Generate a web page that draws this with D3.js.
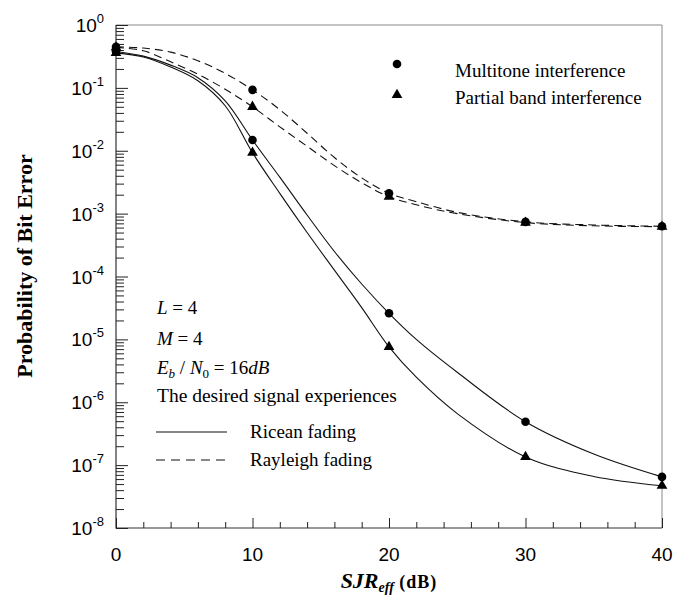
<!DOCTYPE html>
<html>
<head>
<meta charset="utf-8">
<script src="https://cdn.jsdelivr.net/npm/d3@7"></script>
<style>
  html, body { margin: 0; padding: 0; background: #fff; }
  svg { display: block; }
  .sans { font-family: "Liberation Sans", Arial, Helvetica, sans-serif; }
  .serif { font-family: "Liberation Serif", "Times New Roman", Times, serif; }
</style>
</head>
<body>
<svg id="chart" width="682" height="595"></svg>
<script>
// SJR_eff sample points (dB) for the analytic curves
const sjr = [0, 2, 4, 6, 8, 10, 12, 14, 16, 18, 20, 22, 25, 30, 35, 40];

// Ricean fading (solid curves)
const riceanMultitone = [0.38, 0.32, 0.23, 0.145, 0.062, 0.0148, 0.0038, 9.5e-4, 2.5e-4, 7.6e-5, 2.6e-5, 1.0e-5, 3.0e-6, 4.9e-7, 1.5e-7, 6.5e-8];
const riceanPartial   = [0.36, 0.31, 0.215, 0.13, 0.052, 0.0093, 0.0021, 5.0e-4, 1.26e-4, 3.2e-5, 7.6e-6, 2.5e-6, 6.6e-7, 1.35e-7, 6.6e-8, 4.7e-8];

// Rayleigh fading (dashed curves)
const rayleighMultitone = [0.45, 0.43, 0.37, 0.27, 0.17, 0.093, 0.045, 0.019, 0.0078, 0.0037, 0.0021, 0.00155, 0.00105, 0.00074, 0.00066, 0.00063];
const rayleighPartial   = [0.44, 0.39, 0.26, 0.165, 0.095, 0.05, 0.024, 0.0118, 0.0058, 0.0031, 0.00186, 0.00138, 0.0010, 0.00072, 0.00064, 0.00062];

// Simulation points shown with markers
const markerSjr = [0, 10, 20, 30, 40];
const riceanMultitoneMarks   = [0.38, 0.0148, 2.6e-5, 4.9e-7, 6.5e-8];
const riceanPartialMarks     = [0.36, 0.0093, 7.6e-6, 1.35e-7, 4.7e-8];
const rayleighMultitoneMarks = [0.45, 0.093, 0.0021, 0.00074, 0.00063];
const rayleighPartialMarks   = [0.44, 0.05, 0.00186, 0.00072, 0.00062];

// Axis ticks
const xMajorTicks = [0, 10, 20, 30, 40];
const xMinorTicks = [2, 4, 6, 8, 12, 14, 16, 18, 22, 24, 26, 28, 32, 34, 36, 38];
const yExponents = [0, -1, -2, -3, -4, -5, -6, -7, -8];

const svg = d3.select("#chart");
const W = 682, H = 595;
svg.append("rect").attr("width", W).attr("height", H).attr("fill", "#fff");

const plotLeft = 116, plotRight = 662, plotTop = 25, plotBottom = 528;
const x = d3.scaleLinear().domain([0, 40]).range([plotLeft, plotRight]);
const y = d3.scaleLog().domain([1e-8, 1]).range([plotBottom, plotTop]);

// Frame: top and right edges drawn lighter than the axis lines
svg.append("path")
  .attr("d", `M${plotLeft},${plotTop}H${plotRight}V${plotBottom}`)
  .attr("fill", "none").attr("stroke", "#888").attr("stroke-width", 1);
svg.append("path")
  .attr("d", `M${plotLeft},${plotTop}V${plotBottom}H${plotRight}`)
  .attr("fill", "none").attr("stroke", "#333").attr("stroke-width", 1.2);

// Bottom axis: ticks pointing into the plot
const xAxisMajor = d3.axisBottom(x).tickValues(xMajorTicks).tickSizeInner(-10).tickSizeOuter(0).tickFormat("");
const xAxisMinor = d3.axisBottom(x).tickValues(xMinorTicks).tickSizeInner(-6).tickSizeOuter(0).tickFormat("");
[xAxisMajor, xAxisMinor].forEach(ax => {
  const g = svg.append("g").attr("transform", `translate(0,${plotBottom})`).call(ax);
  g.select(".domain").remove();
  g.selectAll("line").attr("stroke", "#222");
});
svg.append("g").selectAll("text").data(xMajorTicks).join("text")
  .attr("class", "sans")
  .attr("x", d => x(d)).attr("y", 561)
  .attr("text-anchor", "middle")
  .attr("font-size", 19)
  .text(d => d);

// Left axis: log ticks pointing into the plot
const yMinor = [];
for (let e = -8; e < 0; e++) for (let m = 2; m <= 9; m++) yMinor.push(m * Math.pow(10, e));
const yMajor = yExponents.map(e => Math.pow(10, e));
const yAxisMajor = d3.axisLeft(y).tickValues(yMajor).tickSizeInner(-12).tickSizeOuter(0).tickFormat("");
const yAxisMinor = d3.axisLeft(y).tickValues(yMinor).tickSizeInner(-8).tickSizeOuter(0).tickFormat("");
[yAxisMajor, yAxisMinor].forEach(ax => {
  const g = svg.append("g").attr("transform", `translate(${plotLeft},0)`).call(ax);
  g.select(".domain").remove();
  g.selectAll("line").attr("stroke", "#222");
});
const yl = svg.append("g").selectAll("text").data(yExponents).join("text")
  .attr("class", "sans")
  .attr("x", 104).attr("y", d => y(Math.pow(10, d)) + 7)
  .attr("text-anchor", "end")
  .attr("font-size", 19);
yl.append("tspan").text("10");
yl.append("tspan").attr("dy", -9).attr("font-size", 13).text(d => d === 0 ? "0" : "-" + Math.abs(d));

// Curves (smooth spline through the sampled points)
const line = d3.line().x(d => x(d[0])).y(d => y(d[1])).curve(d3.curveCatmullRom.alpha(0.5));
const curves = [
  { v: riceanMultitone, dash: null },
  { v: riceanPartial, dash: null },
  { v: rayleighMultitone, dash: "8,5" },
  { v: rayleighPartial, dash: "8,5" }
];
curves.forEach(c => {
  svg.append("path")
    .datum(sjr.map((s, i) => [s, c.v[i]]))
    .attr("d", line)
    .attr("fill", "none")
    .attr("stroke", "#111")
    .attr("stroke-width", 1.1)
    .attr("stroke-dasharray", c.dash);
});

// Markers
const circleSym = d3.symbol().type(d3.symbolCircle).size(58);
const triSym = d3.symbol().type(d3.symbolTriangle).size(50);
const markSets = [
  { v: riceanPartialMarks, sym: triSym },
  { v: rayleighPartialMarks, sym: triSym },
  { v: riceanMultitoneMarks, sym: circleSym },
  { v: rayleighMultitoneMarks, sym: circleSym }
];
markSets.forEach(m => {
  svg.append("g").selectAll("path").data(markerSjr.map((s, i) => [s, m.v[i]])).join("path")
    .attr("transform", d => `translate(${x(d[0])},${y(d[1])})`)
    .attr("d", m.sym)
    .attr("fill", "#000");
});

// Marker legend
svg.append("path").attr("transform", "translate(397,64)").attr("d", circleSym).attr("fill", "#000");
svg.append("path").attr("transform", "translate(397,95)").attr("d", triSym).attr("fill", "#000");
svg.append("text").attr("class", "serif").attr("x", 455).attr("y", 77).attr("font-size", 19).text("Multitone interference");
svg.append("text").attr("class", "serif").attr("x", 455).attr("y", 104).attr("font-size", 19).text("Partial band interference");

// Parameter annotations
const ann = svg.append("g").attr("class", "serif").attr("font-size", 19);
const t1 = ann.append("text").attr("x", 157).attr("y", 314);
t1.append("tspan").attr("font-style", "italic").text("L");
t1.append("tspan").text(" = 4");
const t2 = ann.append("text").attr("x", 157).attr("y", 345);
t2.append("tspan").attr("font-style", "italic").text("M");
t2.append("tspan").text(" = 4");
const t3 = ann.append("text").attr("x", 157).attr("y", 374);
t3.append("tspan").attr("font-style", "italic").text("E");
t3.append("tspan").attr("font-style", "italic").attr("font-size", 13).attr("dy", 4).text("b");
t3.append("tspan").attr("dy", -4).text(" / ");
t3.append("tspan").attr("font-style", "italic").text("N");
t3.append("tspan").attr("font-size", 13).attr("dy", 4).text("0");
t3.append("tspan").attr("dy", -4).text(" = 16");
t3.append("tspan").attr("font-style", "italic").text("dB");
ann.append("text").attr("x", 157).attr("y", 402).attr("font-size", 19.5).text("The desired signal experiences");

// Line-style legend
svg.append("line").attr("x1", 156).attr("x2", 227).attr("y1", 432).attr("y2", 432)
  .attr("stroke", "#111").attr("stroke-width", 1.1);
svg.append("line").attr("x1", 156).attr("x2", 227).attr("y1", 460).attr("y2", 460)
  .attr("stroke", "#111").attr("stroke-width", 1.1).attr("stroke-dasharray", "9,6");
ann.append("text").attr("x", 250).attr("y", 438).text("Ricean fading");
ann.append("text").attr("x", 250).attr("y", 466).text("Rayleigh fading");

// Axis titles
svg.append("text").attr("class", "serif")
  .attr("transform", "translate(32,266) rotate(-90)")
  .attr("text-anchor", "middle")
  .attr("font-size", 22).attr("font-weight", "bold")
  .text("Probability of Bit Error");

const xt = svg.append("text").attr("class", "serif")
  .attr("x", 389).attr("y", 588).attr("text-anchor", "middle");
xt.append("tspan").attr("font-size", 22).attr("font-weight", "bold").attr("font-style", "italic").text("SJR");
xt.append("tspan").attr("font-size", 14).attr("font-weight", "bold").attr("font-style", "italic").attr("dy", 4).text("eff");
xt.append("tspan").attr("font-size", 18).attr("font-weight", "bold").attr("dy", -4).attr("letter-spacing", 1).text("  (dB)");
</script>
</body>
</html>
